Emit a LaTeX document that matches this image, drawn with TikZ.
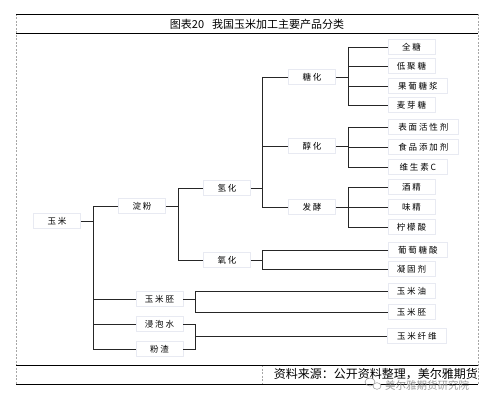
\documentclass[tikz,border=0pt]{standalone}
\usepackage{fontspec}
\setmainfont{Noto Sans CJK SC}
\newfontfamily\cjk[LetterSpace=22]{Noto Sans CJK SC}
\newfontfamily\cjkt{Noto Sans CJK SC}
\begin{document}
\begin{tikzpicture}[x=1pt,y=-1pt,
  box/.style={draw={rgb,255:red,232;green,234;blue,242}, line width=0.6pt, fill=white,
    minimum width=47pt, minimum height=15pt, inner sep=1pt, font=\cjk\fontsize{8.5}{9}\selectfont},
  wbox/.style={box, minimum width=59pt},
  wwbox/.style={box, minimum width=70pt},
  conn/.style={draw=black!85, line width=0.7pt},
  frame/.style={draw=black, line width=0.8pt},
  side/.style={draw=black!35, line width=0.5pt, dash pattern=on 2pt off 1.5pt}]
\useasboundingbox (0,0) rectangle (497,406);
% frame
\draw[side] (16,14) -- (16,384);
\draw[side] (478,14) -- (478,384);
\draw[side] (262,365) -- (262,384);
\draw[frame] (16,14) -- (478,14);
\draw[frame] (16,33) -- (478,33);
\draw[frame] (16,365) -- (478,365);
\draw[frame] (16,384) -- (478,384);
\node[font=\cjkt\fontsize{11}{12}\selectfont] (title) at (257,24) {图表20\hspace{8pt}我国玉米加工主要产品分类};
\node[font=\cjkt\fontsize{12}{13}\selectfont, anchor=east, inner sep=0pt] (src) at (478,374) {资料来源：公开资料整理，美尔雅期货};
% watermark
\node[font=\cjkt\fontsize{10.5}{11}\selectfont, text=black!40, anchor=west, inner sep=0pt] (wm) at (385,385) {美尔雅期货研究院};
\draw[black!40, line width=0.5pt] (370,382) ellipse (5pt and 4pt);
\draw[black!40, line width=0.5pt, fill=white] (377,386) ellipse (4pt and 3.3pt);
% nodes
\node[box] (ym) at (57,221) {玉米};
\node[box] (df) at (142,206) {淀粉};
\node[box] (qh) at (227,188) {氢化};
\node[box] (yh) at (227,260) {氧化};
\node[box] (th) at (312,77) {糖化};
\node[box] (ch) at (312,146) {醇化};
\node[box] (fj) at (312,207) {发酵};
\node[box] (qt) at (411.5,47) {全糖};
\node[box] (djt) at (411.5,66) {低聚糖};
\node[wbox, anchor=west] (gpt) at (388,86) {果葡糖浆};
\node[box] (myt) at (411.5,105) {麦芽糖};
\node[wwbox, anchor=west] (bmh) at (388,127) {表面活性剂};
\node[wwbox, anchor=west] (sp) at (388,147) {食品添加剂};
\node[wbox, anchor=west] (wss) at (388,167) {维生素C};
\node[box] (jj) at (411.5,187) {酒精};
\node[box] (wj) at (411.5,207) {味精};
\node[box] (nms) at (411.5,227) {柠檬酸};
\node[wbox, anchor=west] (pts) at (388,250) {葡萄糖酸};
\node[box] (ngj) at (411.5,269) {凝固剂};
\node[box] (ympa) at (159.5,299) {玉米胚};
\node[box] (jps) at (159.5,324) {浸泡水};
\node[box] (fz) at (159.5,349) {粉渣};
\node[box] (ymy) at (411.5,291) {玉米油};
\node[box] (ympb) at (411.5,312) {玉米胚};
\node[wbox, anchor=west] (ymxw) at (387,336) {玉米纤维};
% bus coordinates
\coordinate (b1) at (93,0);
\coordinate (b2) at (178,0);
\coordinate (b3) at (262,0);
\coordinate (b4) at (348,0);
\coordinate (b5) at (195,0);
\coordinate (mx) at (195,336);
% connectors
\draw[conn] (ym.east) -- (ym.east -| b1);
\draw[conn] (df.west -| b1) -- (fz.west -| b1);
\foreach \n in {df,ympa,jps,fz} \draw[conn] (\n.west) -- (\n.west -| b1);
\draw[conn] (df.east) -- (df.east -| b2);
\draw[conn] (qh.west -| b2) -- (yh.west -| b2);
\foreach \n in {qh,yh} \draw[conn] (\n.west) -- (\n.west -| b2);
\draw[conn] (qh.east) -- (qh.east -| b3);
\draw[conn] (th.west -| b3) -- (fj.west -| b3);
\foreach \n in {th,ch,fj} \draw[conn] (\n.west) -- (\n.west -| b3);
\draw[conn] (yh.east) -- (yh.east -| b3);
\draw[conn] (pts.west -| b3) -- (ngj.west -| b3);
\foreach \n in {pts,ngj} \draw[conn] (\n.west) -- (\n.west -| b3);
\draw[conn] (th.east) -- (th.east -| b4);
\draw[conn] (qt.west -| b4) -- (myt.west -| b4);
\foreach \n in {qt,djt,gpt,myt} \draw[conn] (\n.west) -- (\n.west -| b4);
\draw[conn] (ch.east) -- (ch.east -| b4);
\draw[conn] (bmh.west -| b4) -- (wss.west -| b4);
\foreach \n in {bmh,sp,wss} \draw[conn] (\n.west) -- (\n.west -| b4);
\draw[conn] (fj.east) -- (fj.east -| b4);
\draw[conn] (jj.west -| b4) -- (nms.west -| b4);
\foreach \n in {jj,wj,nms} \draw[conn] (\n.west) -- (\n.west -| b4);
\draw[conn] (ympa.east) -- (ympa.east -| b5);
\draw[conn] (ymy.west -| b5) -- (ympb.west -| b5);
\foreach \n in {ymy,ympb} \draw[conn] (\n.west) -- (\n.west -| b5);
\draw[conn] (jps.east) -- (jps.east -| b5) -- (fz.east -| b5) -- (fz.east);
\draw[conn] (mx) -- (ymxw.west);
\end{tikzpicture}
\end{document}
